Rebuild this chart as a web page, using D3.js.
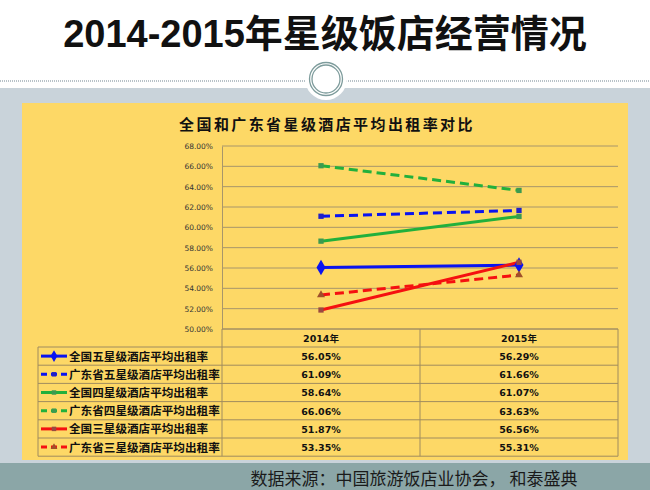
<!DOCTYPE html>
<html>
<head>
<meta charset="utf-8">
<script src="https://cdn.jsdelivr.net/npm/d3@7"></script>
<style>
  body { margin: 0; background: #fff; }
  svg { display: block; }
</style>
</head>
<body>
<svg id="chart"></svg>
<script>
/// DATA ////////////////////////////////////////////////////////////////////////////////

var years = ['2014年', '2015年'];
var seriesNames = [
    '全国五星级酒店平均出租率',
    '广东省五星级酒店平均出租率',
    '全国四星级酒店平均出租率',
    '广东省四星级酒店平均出租率',
    '全国三星级酒店平均出租率',
    '广东省三星级酒店平均出租率'
];
var nat5 = [56.05, 56.29];
var gd5 = [61.09, 61.66];
var nat4 = [58.64, 61.07];
var gd4 = [66.06, 63.63];
var nat3 = [51.87, 56.56];
var gd3 = [53.35, 55.31];
var yTicks = [50, 52, 54, 56, 58, 60, 62, 64, 66, 68];

/// SETUP ///////////////////////////////////////////////////////////////////////////////

var W = 650, H = 490;
var PLOT_LEFT = 222, PLOT_RIGHT = 618, PLOT_TOP = 146, PLOT_BOTTOM = 329;
var ROW_H = 18.2, HEAD_H = 18, TABLE_LEFT = 38;

var series = [
    { name: seriesNames[0], values: nat5, color: '#0a14f0', dash: null, marker: 'diamond', mcolor: '#0a14f0' },
    { name: seriesNames[1], values: gd5, color: '#0a14f0', dash: '9,5', marker: 'square', mcolor: '#2020c8' },
    { name: seriesNames[2], values: nat4, color: '#22b03c', dash: null, marker: 'square', mcolor: '#3c9a50' },
    { name: seriesNames[3], values: gd4, color: '#22b03c', dash: '9,5', marker: 'square', mcolor: '#3c9a50' },
    { name: seriesNames[4], values: nat3, color: '#f51010', dash: null, marker: 'square', mcolor: '#9a4a40' },
    { name: seriesNames[5], values: gd3, color: '#f51010', dash: '9,5', marker: 'triangle', mcolor: '#a0502a' }
];

var svg = d3.select('#chart').attr('width', W).attr('height', H);

// page background pieces
svg.append('rect').attr('x', 0).attr('y', 88).attr('width', W).attr('height', 375).attr('fill', '#c9d3da');
svg.append('rect').attr('x', 0).attr('y', 463).attr('width', W).attr('height', 27).attr('fill', '#8ba6a7');
svg.append('line')
    .attr('x1', 0).attr('x2', W).attr('y1', 81).attr('y2', 81)
    .attr('stroke', '#b8c2c8').attr('stroke-width', 2).attr('stroke-dasharray', '1,1');
svg.append('circle').attr('cx', 326).attr('cy', 79).attr('r', 21).attr('fill', '#fff');
svg.append('circle').attr('cx', 326).attr('cy', 79).attr('r', 16.5)
    .attr('fill', 'none').attr('stroke', '#7e9c9c').attr('stroke-width', 1.3);
svg.append('circle').attr('cx', 326).attr('cy', 79).attr('r', 14)
    .attr('fill', 'none').attr('stroke', '#7e9c9c').attr('stroke-width', 1.3);

// page title
svg.append('text')
    .attr('x', 325).attr('y', 47)
    .attr('text-anchor', 'middle')
    .style('font-family', 'Liberation Sans, Noto Sans CJK SC, sans-serif')
    .style('font-weight', 'bold').style('font-size', '38px')
    .attr('fill', '#111')
    .text('2014-2015年星级饭店经营情况');

// source
svg.append('text')
    .attr('x', 414).attr('y', 485)
    .attr('text-anchor', 'middle')
    .style('font-family', 'Noto Sans CJK SC, sans-serif')
    .style('font-size', '17px')
    .attr('fill', '#1a1a1a')
    .text('数据来源：中国旅游饭店业协会， 和泰盛典');

// chart area
svg.append('rect').attr('x', 22).attr('y', 103).attr('width', 606).attr('height', 357).attr('fill', '#fdd866');

svg.append('text')
    .attr('x', 327).attr('y', 130)
    .attr('text-anchor', 'middle')
    .style('font-family', 'Noto Sans CJK SC, sans-serif')
    .style('font-weight', 'bold').style('font-size', '15px')
    .style('letter-spacing', '2.4px')
    .attr('fill', '#111')
    .text('全国和广东省星级酒店平均出租率对比');

var x = d3.scaleBand().domain(years).range([PLOT_LEFT, PLOT_RIGHT]);
var y = d3.scaleLinear().domain([50, 68]).range([PLOT_BOTTOM, PLOT_TOP]);

var g = svg.append('g');

// gridlines
g.selectAll('.grid')
    .data(yTicks)
    .enter()
    .append('line')
        .attr('x1', PLOT_LEFT).attr('x2', PLOT_RIGHT)
        .attr('y1', function (d) { return y(d) })
        .attr('y2', function (d) { return y(d) })
        .attr('stroke', '#a8966a').attr('stroke-width', 1);

// y axis
var yAxis = g.append('g')
    .attr('transform', 'translate(' + PLOT_LEFT + ',0)')
    .call(d3.axisLeft(y).tickValues(yTicks).tickSize(0).tickPadding(9)
        .tickFormat(function (d) { return d.toFixed(2) + '%' }));
yAxis.select('.domain').attr('stroke', '#a8966a');
yAxis.selectAll('text')
    .style('font-family', 'DejaVu Sans, sans-serif').style('font-size', '7.5px').attr('fill', '#333');

// lines
var line = d3.line()
    .x(function (d, i) { return x(years[i]) + x.bandwidth() / 2 })
    .y(function (d) { return y(d) });

series.forEach(function (s) {
    g.append('path')
        .datum(s.values)
        .attr('d', line)
        .attr('fill', 'none')
        .attr('stroke', s.color)
        .attr('stroke-width', 3)
        .attr('stroke-dasharray', s.dash);
});

function marker(sel, s, size) {
    var sym = s.marker === 'diamond' ? d3.symbolDiamond : (s.marker === 'triangle' ? d3.symbolTriangle : d3.symbolSquare);
    return sel.attr('d', d3.symbol().type(sym).size(size))
        .attr('fill', s.mcolor);
}

series.forEach(function (s) {
    g.selectAll(null)
        .data(s.values)
        .enter()
        .append('path')
            .attr('transform', function (d, i) {
                return 'translate(' + (x(years[i]) + x.bandwidth() / 2) + ',' + y(d) + ')'
            })
            .call(marker, s, s.marker === 'diamond' ? 70 : 28);
});

/// DATA TABLE //////////////////////////////////////////////////////////////////////////

var tb = svg.append('g');
var TOP = PLOT_BOTTOM, ROWS_TOP = PLOT_BOTTOM + HEAD_H;
var TABLE_BOTTOM = ROWS_TOP + ROW_H * series.length;
var border = '#a08c5e';

// header row
tb.append('line').attr('x1', PLOT_LEFT).attr('x2', PLOT_RIGHT).attr('y1', TOP).attr('y2', TOP)
    .attr('stroke', border);
tb.selectAll('.vsep')
    .data([PLOT_LEFT, x(years[1]), PLOT_RIGHT])
    .enter()
    .append('line')
        .attr('x1', function (d) { return d }).attr('x2', function (d) { return d })
        .attr('y1', TOP).attr('y2', TABLE_BOTTOM)
        .attr('stroke', border);
tb.append('line').attr('x1', TABLE_LEFT).attr('x2', TABLE_LEFT).attr('y1', ROWS_TOP).attr('y2', TABLE_BOTTOM)
    .attr('stroke', border);
tb.selectAll('.hrow')
    .data(d3.range(series.length + 1))
    .enter()
    .append('line')
        .attr('x1', TABLE_LEFT).attr('x2', PLOT_RIGHT)
        .attr('y1', function (d) { return ROWS_TOP + d * ROW_H })
        .attr('y2', function (d) { return ROWS_TOP + d * ROW_H })
        .attr('stroke', border);

tb.selectAll('.head')
    .data(years)
    .enter()
    .append('text')
        .attr('x', function (d) { return x(d) + x.bandwidth() / 2 })
        .attr('y', TOP + 13)
        .attr('text-anchor', 'middle')
        .style('font-family', 'DejaVu Sans, Noto Sans CJK SC, sans-serif')
        .style('font-weight', 'bold').style('font-size', '9.5px')
        .attr('fill', '#111')
        .text(function (d) { return d });

var rows = tb.selectAll('.row')
    .data(series)
    .enter()
    .append('g')
        .attr('transform', function (d, i) { return 'translate(0,' + (ROWS_TOP + i * ROW_H) + ')' });

rows.append('line')
    .attr('x1', 41).attr('x2', 67).attr('y1', ROW_H / 2).attr('y2', ROW_H / 2)
    .attr('stroke', function (d) { return d.color })
    .attr('stroke-width', 3)
    .attr('stroke-dasharray', function (d) { return d.dash ? '6,4' : null });
rows.append('path')
    .attr('transform', 'translate(54,' + ROW_H / 2 + ')')
    .each(function (d) { d3.select(this).call(marker, d, d.marker === 'diamond' ? 40 : 20) });

rows.append('text')
    .attr('x', 69).attr('y', ROW_H / 2 + 4.5)
    .style('font-family', 'Noto Sans CJK SC, sans-serif')
    .style('font-weight', 'bold').style('font-size', '11.6px')
    .attr('fill', '#111')
    .text(function (d) { return d.name });

rows.selectAll('.val')
    .data(function (d) { return d.values })
    .enter()
    .append('text')
        .attr('x', function (d, i) { return x(years[i]) + x.bandwidth() / 2 })
        .attr('y', ROW_H / 2 + 4)
        .attr('text-anchor', 'middle')
        .style('font-family', 'DejaVu Sans, sans-serif')
        .style('font-weight', 'bold').style('font-size', '9.5px')
        .attr('fill', '#111')
        .text(function (d) { return d.toFixed(2) + '%' });
</script>
</body>
</html>
